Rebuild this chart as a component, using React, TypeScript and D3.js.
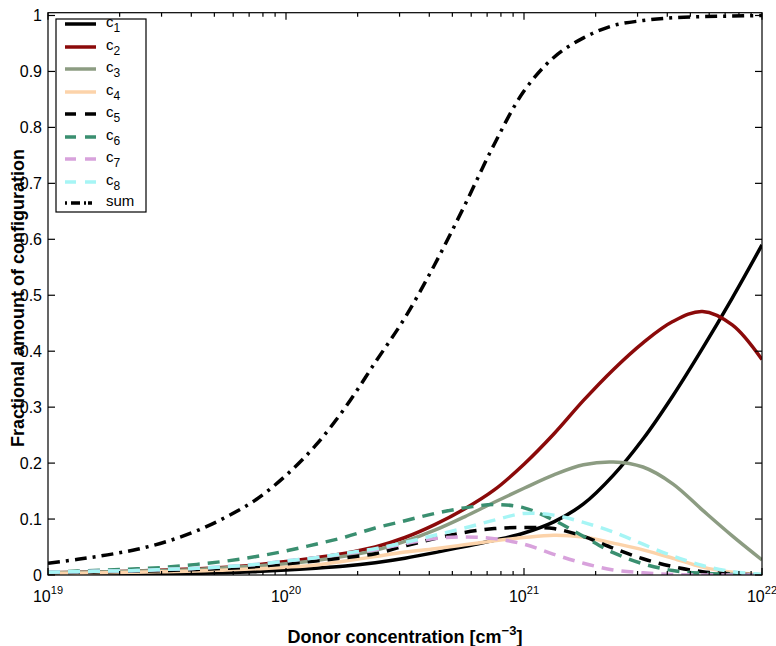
import React, { useEffect, useRef } from 'react';
import * as d3 from 'd3';

// donor concentration grid (cm^-3), 1/8 decade steps
const concentration = [
  1.0e19, 1.334e19, 1.778e19, 2.371e19, 3.162e19, 4.217e19, 5.623e19, 7.499e19,
  1.0e20, 1.334e20, 1.778e20, 2.371e20, 3.162e20, 4.217e20, 5.623e20, 7.499e20,
  1.0e21, 1.334e21, 1.778e21, 2.371e21, 3.162e21, 4.217e21, 5.623e21, 7.499e21,
  1.0e22,
];

// fractional amount of each configuration
const c1 = [0.0, 0.0005, 0.001, 0.0015, 0.002, 0.003, 0.004, 0.006, 0.009, 0.012, 0.016, 0.022, 0.03, 0.04, 0.051, 0.062, 0.075, 0.095, 0.127, 0.178, 0.243, 0.32, 0.405, 0.495, 0.59];
const c2 = [0.004, 0.005, 0.006, 0.007, 0.009, 0.011, 0.014, 0.018, 0.024, 0.031, 0.039, 0.05, 0.067, 0.09, 0.118, 0.152, 0.198, 0.252, 0.312, 0.367, 0.415, 0.453, 0.471, 0.447, 0.385];
const c3 = [0.004, 0.005, 0.006, 0.007, 0.008, 0.01, 0.013, 0.016, 0.02, 0.026, 0.034, 0.044, 0.06, 0.08, 0.104, 0.13, 0.155, 0.179, 0.197, 0.202, 0.193, 0.163, 0.116, 0.07, 0.027];
const c4 = [0.003, 0.003, 0.004, 0.005, 0.006, 0.007, 0.009, 0.011, 0.014, 0.018, 0.025, 0.033, 0.041, 0.047, 0.054, 0.061, 0.067, 0.071, 0.068, 0.057, 0.045, 0.03, 0.014, 0.005, 0.001];
const c5 = [0.004, 0.005, 0.006, 0.007, 0.008, 0.01, 0.012, 0.015, 0.02, 0.025, 0.031, 0.038, 0.052, 0.065, 0.076, 0.083, 0.085, 0.083, 0.069, 0.048, 0.029, 0.015, 0.006, 0.002, 0.0];
const c6 = [0.005, 0.007, 0.009, 0.011, 0.014, 0.019, 0.025, 0.033, 0.043, 0.055, 0.068, 0.084, 0.097, 0.11, 0.12, 0.126, 0.12, 0.098, 0.069, 0.04, 0.02, 0.008, 0.003, 0.001, 0.0];
const c7 = [0.005, 0.006, 0.007, 0.008, 0.01, 0.012, 0.015, 0.019, 0.025, 0.031, 0.038, 0.045, 0.056, 0.065, 0.068, 0.065, 0.055, 0.037, 0.021, 0.009, 0.004, 0.001, 0.0, 0.0, 0.0];
const c8 = [0.005, 0.006, 0.007, 0.008, 0.01, 0.012, 0.015, 0.019, 0.025, 0.031, 0.039, 0.047, 0.058, 0.071, 0.084, 0.098, 0.11, 0.107, 0.094, 0.077, 0.055, 0.034, 0.017, 0.006, 0.001];
const total = [0.021, 0.028, 0.036, 0.046, 0.06, 0.079, 0.104, 0.135, 0.178, 0.232, 0.3, 0.38, 0.46, 0.555, 0.66, 0.77, 0.865, 0.925, 0.96, 0.982, 0.991, 0.996, 0.998, 0.999, 1.0];

const seriesNames = ['1', '2', '3', '4', '5', '6', '7', '8', 'sum'];
const seriesValues = [c1, c2, c3, c4, c5, c6, c7, c8, total];
const seriesColors = ['#000000', '#8b0a0a', '#8c9c82', '#fcd3aa', '#000000', '#3a8f70', '#d8a2dc', '#a6f5f5', '#000000'];
const seriesDash = ['', '', '', '', '12,8', '12,8', '12,8', '12,8', '12,6,3,6'];

const yTicks = [0, 0.1, 0.2, 0.3, 0.4, 0.5, 0.6, 0.7, 0.8, 0.9, 1];
const yTickLabels = ['0', '0.1', '0.2', '0.3', '0.4', '0.5', '0.6', '0.7', '0.8', '0.9', '1'];
const xDecades = [19, 20, 21, 22];

const FONT = '"Liberation Sans", Arial, Helvetica, sans-serif';

export default function App() {
  const ref = useRef<SVGSVGElement>(null);

  useEffect(() => {
    const svg = d3.select(ref.current);
    svg.selectAll('*').remove();

    const left = 48, right = 762, top = 12.7, bottom = 575;

    const x = d3.scaleLog().domain([1e19, 1e22]).range([left, right]);
    const y = d3.scaleLinear().domain([0, 1.005]).range([bottom, top]);

    svg.append('defs').append('clipPath').attr('id', 'plot-clip')
      .append('rect')
      .attr('x', left).attr('y', top - 3)
      .attr('width', right - left).attr('height', bottom - top + 3);

    const g = svg.append('g');

    // curves
    const curves = g.append('g').attr('clip-path', 'url(#plot-clip)');
    seriesValues.forEach((vals, i) => {
      const line = d3.line<number>()
        .x((d, j) => x(concentration[j]))
        .y(d => y(d))
        .curve(d3.curveCatmullRom.alpha(0.5));
      curves.append('path')
        .attr('d', line(vals))
        .attr('fill', 'none')
        .attr('stroke', seriesColors[i])
        .attr('stroke-width', 3.5)
        .attr('stroke-dasharray', seriesDash[i] || null);
    });

    // frame
    g.append('rect')
      .attr('x', left).attr('y', top)
      .attr('width', right - left).attr('height', bottom - top)
      .attr('fill', 'none').attr('stroke', '#000').attr('stroke-width', 1.2);

    // x ticks (major + minor), inward, top and bottom
    const xt = x.ticks();
    xt.forEach(t => {
      const major = Math.abs(Math.log10(t) - Math.round(Math.log10(t))) < 1e-6;
      const len = major ? 7 : 4;
      const px = x(t);
      g.append('line').attr('x1', px).attr('x2', px).attr('y1', bottom).attr('y2', bottom - len)
        .attr('stroke', '#000').attr('stroke-width', 1.2);
      g.append('line').attr('x1', px).attr('x2', px).attr('y1', top).attr('y2', top + len)
        .attr('stroke', '#000').attr('stroke-width', 1.2);
    });

    // y ticks, inward left and right
    yTicks.forEach(t => {
      const py = y(t);
      g.append('line').attr('x1', left).attr('x2', left + 7).attr('y1', py).attr('y2', py)
        .attr('stroke', '#000').attr('stroke-width', 1.2);
      g.append('line').attr('x1', right).attr('x2', right - 7).attr('y1', py).attr('y2', py)
        .attr('stroke', '#000').attr('stroke-width', 1.2);
    });

    // y tick labels
    yTicks.forEach((t, i) => {
      g.append('text')
        .attr('x', 42).attr('y', y(t) + 5.5)
        .attr('text-anchor', 'end')
        .style('font', `16px ${FONT}`)
        .text(yTickLabels[i]);
    });

    // x tick labels 10^n
    xDecades.forEach(d => {
      const txt = g.append('text')
        .attr('x', x(Math.pow(10, d))).attr('y', 602)
        .attr('text-anchor', 'middle')
        .style('font', `16px ${FONT}`);
      txt.append('tspan').text('10');
      txt.append('tspan').attr('dy', -8).style('font-size', '11px').text(String(d));
    });

    // axis labels
    const xl = g.append('text')
      .attr('x', 405).attr('y', 643)
      .attr('text-anchor', 'middle')
      .style('font', `bold 18px ${FONT}`);
    xl.append('tspan').text('Donor concentration [cm');
    xl.append('tspan').attr('dy', -8).style('font-size', '13px').text('\u22123');
    xl.append('tspan').attr('dy', 8).text(']');

    g.append('text')
      .attr('transform', 'translate(24,298) rotate(-90)')
      .attr('text-anchor', 'middle')
      .style('font', `bold 18px ${FONT}`)
      .text('Fractional amount of configuration');

    // legend
    const lg = g.append('g');
    lg.append('rect')
      .attr('x', 56).attr('y', 19).attr('width', 90).attr('height', 193)
      .attr('fill', '#fff').attr('stroke', '#000').attr('stroke-width', 1.2);
    const rowY = [24, 47, 69, 92, 114, 137, 159, 182, 203];
    seriesNames.forEach((name, i) => {
      const cy = rowY[i];
      lg.append('line')
        .attr('x1', 65).attr('x2', 96).attr('y1', cy).attr('y2', cy)
        .attr('stroke', seriesColors[i]).attr('stroke-width', 3.5)
        .attr('stroke-dasharray', seriesDash[i] ? (i === 8 ? '2,4,9,4,2' : '11,9') : null);
      const t = lg.append('text')
        .attr('x', 106).attr('y', cy + 3)
        .style('font', `15px ${FONT}`);
      if (name === 'sum') {
        t.text('sum');
      } else {
        t.append('tspan').text('c');
        t.append('tspan').attr('dy', 5).style('font-size', '12px').text(name);
      }
    });
  }, []);

  return (
    <svg ref={ref} width={776} height={646}
      style={{ position: 'absolute', left: 0, top: 0, background: '#fff' }} />
  );
}
